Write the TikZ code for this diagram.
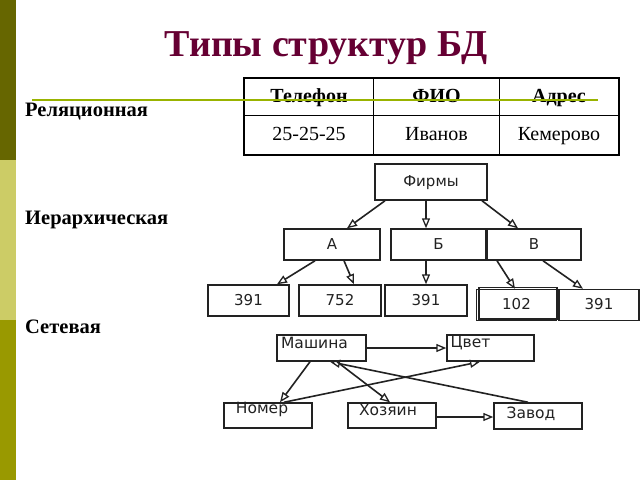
\documentclass[tikz,border=0pt]{standalone}
\usepackage{fontspec}
\setmainfont{Liberation Serif}
\newfontfamily\treefont{DejaVu Sans}
\usetikzlibrary{arrows.meta,calc}
\definecolor{barA}{HTML}{666600}
\definecolor{barB}{HTML}{CCCC66}
\definecolor{barC}{HTML}{999900}
\definecolor{titlec}{HTML}{660033}
\definecolor{linec}{HTML}{99B300}
\definecolor{boxc}{HTML}{222222}
\tikzset{
  cell/.style={draw=black, line width=1pt, minimum height=#1, inner sep=0pt, text height=14pt, text depth=4pt, font=\fontsize{20}{22}\selectfont, anchor=north west},
  tbox/.style={draw=boxc, line width=1.5pt, inner sep=0pt, text height=11pt, text depth=2pt, font=\treefont\fontsize{15}{16}\selectfont, text=boxc},
  nbox/.style={draw=boxc, line width=1.5pt, inner sep=0pt, minimum width=88pt, minimum height=26pt},
  nlab/.style={font=\treefont\fontsize{15.5}{17}\selectfont, text=boxc},
  conn/.style={draw=boxc, line width=1.6pt, -{Triangle[open,length=10pt,width=8pt,line width=1.3pt]}},
  lbl/.style={anchor=base west, font=\bfseries\fontsize{20.5}{22}\selectfont, inner sep=0pt}
}
\begin{document}
\begin{tikzpicture}[x=1pt,y=-1pt]
\useasboundingbox (0,0) rectangle (640,480);
\fill[white] (0,0) rectangle (640,480);
% left bar
\fill[barA] (0,0) rectangle (16,160);
\fill[barB] (0,160) rectangle (16,320);
\fill[barC] (0,320) rectangle (16,480);
% title
\node[anchor=base, text=titlec, font=\bfseries\fontsize{38}{40}\selectfont, inner sep=0pt] (title) at (326,56) {Типы структур БД};
% side labels
\node[lbl] (rel) at (25,116) {Реляционная};
\node[lbl] (ier) at (25,224) {Иерархическая};
\node[lbl] (set) at (25,333) {Сетевая};
% table
\node[cell=37pt, minimum width=129pt, font=\bfseries\fontsize{20}{22}\selectfont] (c11) at (244,78) {Телефон};
\node[cell=37pt, minimum width=126pt, font=\bfseries\fontsize{20}{22}\selectfont] (c12) at (373,78) {ФИО};
\node[cell=37pt, minimum width=119pt, font=\bfseries\fontsize{20}{22}\selectfont] (c13) at (499,78) {Адрес};
\node[cell=39pt, minimum width=129pt] (c21) at (244,115) {25-25-25};
\node[cell=39pt, minimum width=126pt] (c22) at (373,115) {Иванов};
\node[cell=39pt, minimum width=119pt] (c23) at (499,115) {Кемерово};
\draw[line width=2pt] (c11.north west) rectangle (c23.south east);
% green rule
\coordinate (gl1) at (32,100);
\coordinate (gl2) at (598,100);
\draw[linec, line width=1.3pt] (gl1) -- (gl2);
% hierarchy
\node[tbox, minimum width=112pt, minimum height=36pt] (firms) at (431,182) {Фирмы};
\node[tbox, minimum width=96pt, minimum height=31pt] (A) at (332,244.5) {А};
\node[tbox, minimum width=95pt, minimum height=31pt] (B) at (438.5,244.5) {Б};
\node[tbox, minimum width=94pt, minimum height=31pt] (V) at (534,244.5) {В};
\node[tbox, minimum width=81pt, minimum height=31pt] (a1) at (248.5,300.5) {391};
\node[tbox, minimum width=82pt, minimum height=31pt] (a2) at (340,300.5) {752};
\node[tbox, minimum width=82pt, minimum height=31pt] (b1) at (426,300.5) {391};
\draw[boxc, line width=1.2pt] (479,287.5) rectangle (557,319);
\node[tbox, minimum width=80pt, minimum height=31pt] (v1) at (516.5,305) {102};
\node[tbox, minimum width=80pt, minimum height=31pt] (v2) at (599,305) {391};
\draw[conn] ([xshift=-46pt]firms.south) -- ([xshift=15pt]A.north);
\draw[conn] ([xshift=-5pt]firms.south) -- ([xshift=-12.5pt]B.north);
\draw[conn] ([xshift=51pt]firms.south) -- ([xshift=-16pt]V.north);
\draw[conn] ([xshift=-17pt]A.south) -- ([xshift=28.5pt]a1.north);
\draw[conn] ([xshift=12pt]A.south) -- ([xshift=14pt]a2.north);
\draw[conn] ([xshift=-12.5pt]B.south) -- (b1.north);
\draw[conn] ([xshift=-37pt]V.south) -- ([xshift=-1.5pt]v1.north);
\draw[conn] ([xshift=9pt]V.south) -- ([xshift=-16pt]v2.north);
% network
\node[nbox, minimum width=89pt, label={[nlab,xshift=-7pt,yshift=5pt]center:Машина}] (mash) at (321.5,348) {};
\node[nbox, minimum width=87pt, label={[nlab,xshift=-20pt,yshift=5pt]center:Цвет}] (cvet) at (490.5,348) {};
\node[nbox, minimum height=25pt, label={[nlab,xshift=-6pt,yshift=6pt]center:Номер}] (nomer) at (268,415.5) {};
\node[nbox, minimum height=25pt, label={[nlab,xshift=-4pt,yshift=6pt]center:Хозяин}] (hoz) at (392,415.5) {};
\node[nbox, label={[nlab,xshift=-7pt,yshift=2pt]center:Завод}] (zavod) at (538,416) {};
\draw[conn] (mash.east) -- (cvet.west);
\draw[conn] ([xshift=-11.5pt]mash.south) -- ([xshift=12pt]nomer.north);
\draw[conn] ([xshift=16pt]nomer.north) -- ([xshift=-10.5pt]cvet.south);
\draw[conn] ([xshift=15.5pt]mash.south) -- ([xshift=-2pt]hoz.north);
\draw[conn] ([xshift=-10pt]zavod.north) -- ([xshift=8.5pt]mash.south);
\draw[conn] ([yshift=-1.5pt]hoz.east) -- ([yshift=-1pt]zavod.west);
\end{tikzpicture}
\end{document}
